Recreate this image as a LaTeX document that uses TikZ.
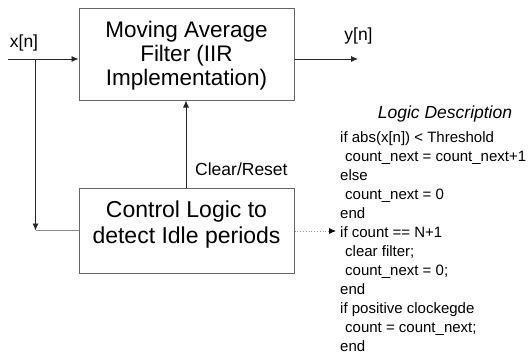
\documentclass[tikz,border=0pt]{standalone}
\usepackage{fontspec}
\setmainfont{Liberation Sans}
\usetikzlibrary{arrows.meta}
\begin{document}
\begin{tikzpicture}[x=1pt,y=-1pt,
  blk/.style={draw=black!60, line width=1pt, minimum width=215pt, inner sep=0pt, align=center},
  conn/.style={draw=black!85, line width=0.8pt},
  tip/.style={-{Latex[length=7pt,width=6pt]}},
  lbl/.style={inner sep=0pt, font=\fontsize{17.5}{19}\selectfont},
  code/.style={inner sep=0pt, font=\fontsize{15}{19}\selectfont}]
\useasboundingbox (0,0) rectangle (530,356);
\node[blk, minimum height=92pt] (top) at (186.5,54) {};
\node[inner sep=0pt, align=center, font=\fontsize{22.5}{24}\selectfont] (toptxt) at ([yshift=-2pt]top.center) {Moving Average\\Filter (IIR\\Implementation)};
\node[blk, minimum height=85pt] (ctrl) at (186.5,230.5) {};
\node[inner sep=0pt, align=center, font=\fontsize{23}{25.5}\selectfont] (ctrltxt) at ([yshift=6pt]ctrl.center) {Control Logic to\\detect Idle periods};
% input
\coordinate (xin) at (8,59);
\coordinate (branch) at (35.5,59);
\coordinate (corner) at (35.5,230.5);
\node[lbl] (xlbl) at (24,43) {x[n]};
\draw[conn, tip] (xin) -- (top.west |- xin);
\draw[conn, tip] (branch) -- (corner);
\draw[draw=black!45, line width=0.8pt] (ctrl.west) -- (corner);
% output
\coordinate (yout) at (358,59);
\draw[conn, tip] (top.east |- yout) -- (yout);
\node[lbl] (ylbl) at (358.5,36) {y[n]};
% clear/reset
\draw[conn, tip] (ctrl.north -| 186,0) -- (top.south -| 186,0);
\node[lbl, anchor=west] (clr) at (195,169) {Clear/Reset};
% logic
\coordinate (lg) at (336,231);
\draw[draw=black!40, dotted, line width=0.8pt, -{Latex[length=7pt,width=6pt,color=black]}] (ctrl.east |- lg) -- (lg);
\node[lbl, font=\fontsize{17.5}{19}\selectfont\itshape] (ltitle) at (445,114) {Logic Description};
\node[code, anchor=north west, align=left] (logic) at (340,131) {if abs(x[n]) \textless{} Threshold\\
\hspace*{5pt}count\_next = count\_next+1\\
else\\
\hspace*{5pt}count\_next = 0\\
end\\
if count == N+1\\
\hspace*{5pt}clear filter;\\
\hspace*{5pt}count\_next = 0;\\
end\\
if positive clockegde\\
\hspace*{5pt}count = count\_next;\\
end};
\end{tikzpicture}
\end{document}
